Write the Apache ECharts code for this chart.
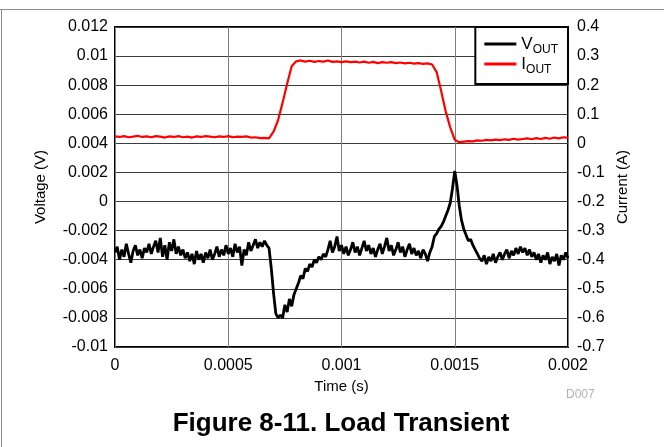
<!DOCTYPE html>
<html>
<head>
<meta charset="utf-8">
<script src="https://cdn.jsdelivr.net/npm/echarts@6/dist/echarts.min.js"></script>
<style>
html,body{margin:0;padding:0;background:#fff;}
#chart{width:664px;height:447px;}
</style>
</head>
<body>
<div id="chart"></div>
<script>
// Sample interval of the captured waveforms (s)
const vStep = 0.00001;
const iStep = 0.00002;

// VOUT (V), one value per vStep starting at t = 0
const vout = [
-0.0035,-0.0031,-0.0040,-0.0033,-0.0038,-0.0029,-0.0036,-0.0042,-0.0034,-0.0030,
-0.0037,-0.0033,-0.0039,-0.0032,-0.0035,-0.0029,-0.0036,-0.0031,-0.0027,-0.0035,
-0.0025,-0.0038,-0.0030,-0.0040,-0.0028,-0.0034,-0.0026,-0.0036,-0.0031,-0.0037,
-0.0033,-0.0039,-0.0035,-0.0041,-0.0036,-0.0043,-0.0034,-0.0040,-0.0036,-0.0042,
-0.0035,-0.0039,-0.0033,-0.0040,-0.0036,-0.0031,-0.0038,-0.0033,-0.0037,-0.0030,
-0.0036,-0.0032,-0.0038,-0.0029,-0.0035,-0.0031,-0.0044,-0.0033,-0.0037,-0.0028,
-0.0034,-0.0030,-0.0026,-0.0032,-0.0028,-0.0031,-0.0027,-0.0030,-0.0032,-0.0046,
-0.0063,-0.0077,-0.0080,-0.0078,-0.0080,-0.0071,-0.0076,-0.0067,-0.0072,-0.0064,
-0.0060,-0.0056,-0.0051,-0.0053,-0.0046,-0.0048,-0.0043,-0.0045,-0.0040,-0.0042,
-0.0038,-0.0040,-0.0036,-0.0038,-0.0033,-0.0027,-0.0035,-0.0031,-0.0024,-0.0034,
-0.0030,-0.0036,-0.0031,-0.0037,-0.0033,-0.0028,-0.0035,-0.0031,-0.0037,-0.0032,
-0.0027,-0.0034,-0.0030,-0.0036,-0.0032,-0.0038,-0.0033,-0.0029,-0.0036,-0.0031,
-0.0025,-0.0034,-0.0030,-0.0037,-0.0033,-0.0028,-0.0035,-0.0031,-0.0038,-0.0033,
-0.0029,-0.0036,-0.0032,-0.0037,-0.0034,-0.0039,-0.0033,-0.0036,-0.0041,-0.0035,
-0.0031,-0.0024,-0.0022,-0.0019,-0.0017,-0.0014,-0.0010,-0.0006,-0.0001,0.0009,
0.0021,0.0011,-0.0003,-0.0013,-0.0019,-0.0023,-0.0027,-0.0026,-0.0030,-0.0033,
-0.0036,-0.0039,-0.0041,-0.0037,-0.0043,-0.0038,-0.0041,-0.0036,-0.0042,-0.0038,
-0.0035,-0.0040,-0.0036,-0.0033,-0.0039,-0.0034,-0.0037,-0.0032,-0.0036,-0.0031,
-0.0035,-0.0032,-0.0037,-0.0033,-0.0038,-0.0035,-0.0040,-0.0036,-0.0042,-0.0037,
-0.0040,-0.0035,-0.0043,-0.0038,-0.0041,-0.0036,-0.0044,-0.0037,-0.0040,-0.0035,
-0.0039
];

// IOUT (A), one value per iStep starting at t = 0
const iout = [
0.024,0.022,0.025,0.021,0.023,0.026,0.022,0.024,0.021,0.025,
0.023,0.020,0.024,0.022,0.025,0.021,0.023,0.020,0.024,0.022,
0.025,0.023,0.021,0.024,0.022,0.025,0.021,0.023,0.022,0.024,
0.020,0.021,0.018,0.019,0.017,0.040,0.080,0.140,0.205,0.265,
0.282,0.285,0.281,0.284,0.280,0.283,0.281,0.285,0.280,0.282,
0.279,0.282,0.279,0.281,0.278,0.281,0.277,0.280,0.276,0.279,
0.277,0.279,0.276,0.278,0.275,0.277,0.274,0.276,0.273,0.275,
0.271,0.245,0.180,0.110,0.055,0.012,0.004,0.006,0.008,0.007,
0.010,0.009,0.012,0.010,0.013,0.011,0.014,0.012,0.016,0.013,
0.015,0.017,0.014,0.018,0.015,0.019,0.016,0.020,0.017,0.021,
0.019
];

const seriesNames = ['VOUT', 'IOUT'];

const voutData = vout.map((v, i) => [i * vStep, v]);
const ioutData = iout.map((v, i) => [i * iStep, v]);

const FONT = '"Liberation Sans", Arial, sans-serif';
const fmt = v => String(parseFloat(v.toFixed(6)));

const chart = echarts.init(document.getElementById('chart'), null, {renderer: 'canvas'});
chart.setOption({
  animation: false,
  backgroundColor: '#fff',
  textStyle: {fontFamily: FONT},
  title: {
    text: 'Figure 8-11. Load Transient',
    left: 336,
    textAlign: 'center',
    top: 406,
    textStyle: {fontFamily: FONT, fontWeight: 'bold', fontSize: 26, color: '#000'}
  },
  graphic: [
    {type: 'line', shape: {x1: 0, y1: 9.5, x2: 664, y2: 9.5}, style: {stroke: '#8c8c8c', lineWidth: 1}},
    {type: 'line', shape: {x1: 1.5, y1: 9, x2: 1.5, y2: 447}, style: {stroke: '#8c8c8c', lineWidth: 1}},
    {type: 'text', left: 566, top: 389, style: {text: 'D007', fill: '#b0b0b0', font: '12px ' + FONT}}
  ],
  legend: {
    data: seriesNames,
    right: 96,
    top: 27,
    orient: 'vertical',
    backgroundColor: '#fff',
    borderColor: '#000',
    borderWidth: 2,
    borderRadius: 0,
    padding: [9, 10, 8, 9],
    itemGap: 0,
    itemWidth: 32,
    itemHeight: 3,
    icon: 'rect',
    formatter: name => name === 'VOUT' ? '{a|V}{b|OUT}' : '{a|I}{b|OUT}',
    textStyle: {
      fontFamily: FONT,
      color: '#000',
      rich: {
        a: {fontSize: 17, fontFamily: FONT, color: '#000', verticalAlign: 'bottom', lineHeight: 18},
        b: {fontSize: 12, fontFamily: FONT, color: '#000', verticalAlign: 'bottom', lineHeight: 18, padding: [0, 0, -3, 0]}
      }
    }
  },
  grid: {
    left: 115, right: 96, top: 27, bottom: 100,
    show: true, borderColor: '#000', borderWidth: 2, backgroundColor: 'transparent'
  },
  xAxis: {
    type: 'value',
    min: 0, max: 0.002, interval: 0.0005,
    name: 'Time (s)',
    nameLocation: 'middle',
    nameGap: 29,
    nameTextStyle: {fontFamily: FONT, fontSize: 15, color: '#000'},
    axisLine: {show: false},
    axisTick: {show: false},
    axisLabel: {margin: 11, fontFamily: FONT, fontSize: 16, color: '#000', formatter: fmt},
    splitLine: {show: true, lineStyle: {color: '#808080', width: 1}}
  },
  yAxis: [
    {
      type: 'value',
      min: -0.01, max: 0.012, interval: 0.002,
      name: 'Voltage (V)',
      nameLocation: 'middle',
      nameGap: 67,
      nameTextStyle: {fontFamily: FONT, fontSize: 15, color: '#000'},
      axisLine: {show: false},
      axisTick: {show: false},
      axisLabel: {margin: 7, fontFamily: FONT, fontSize: 16, color: '#000', formatter: fmt},
      splitLine: {show: true, lineStyle: {color: '#3c3c3c', width: 1}}
    },
    {
      type: 'value',
      position: 'right',
      min: -0.7, max: 0.4, interval: 0.1,
      name: 'Current (A)',
      nameLocation: 'middle',
      nameGap: 47,
      nameTextStyle: {fontFamily: FONT, fontSize: 15, color: '#000'},
      axisLine: {show: false},
      axisTick: {show: false},
      axisLabel: {margin: 9, fontFamily: FONT, fontSize: 16, color: '#000', formatter: fmt},
      splitLine: {show: false}
    }
  ],
  series: [
    {
      name: 'VOUT', type: 'line', yAxisIndex: 0, data: voutData,
      showSymbol: false, symbol: 'none', color: '#000',
      lineStyle: {color: '#000', width: 2.8}
    },
    {
      name: 'IOUT', type: 'line', yAxisIndex: 1, data: ioutData,
      showSymbol: false, symbol: 'none', color: '#ff0000',
      lineStyle: {color: '#ff0000', width: 2.2}
    }
  ]
});
</script>
</body>
</html>
